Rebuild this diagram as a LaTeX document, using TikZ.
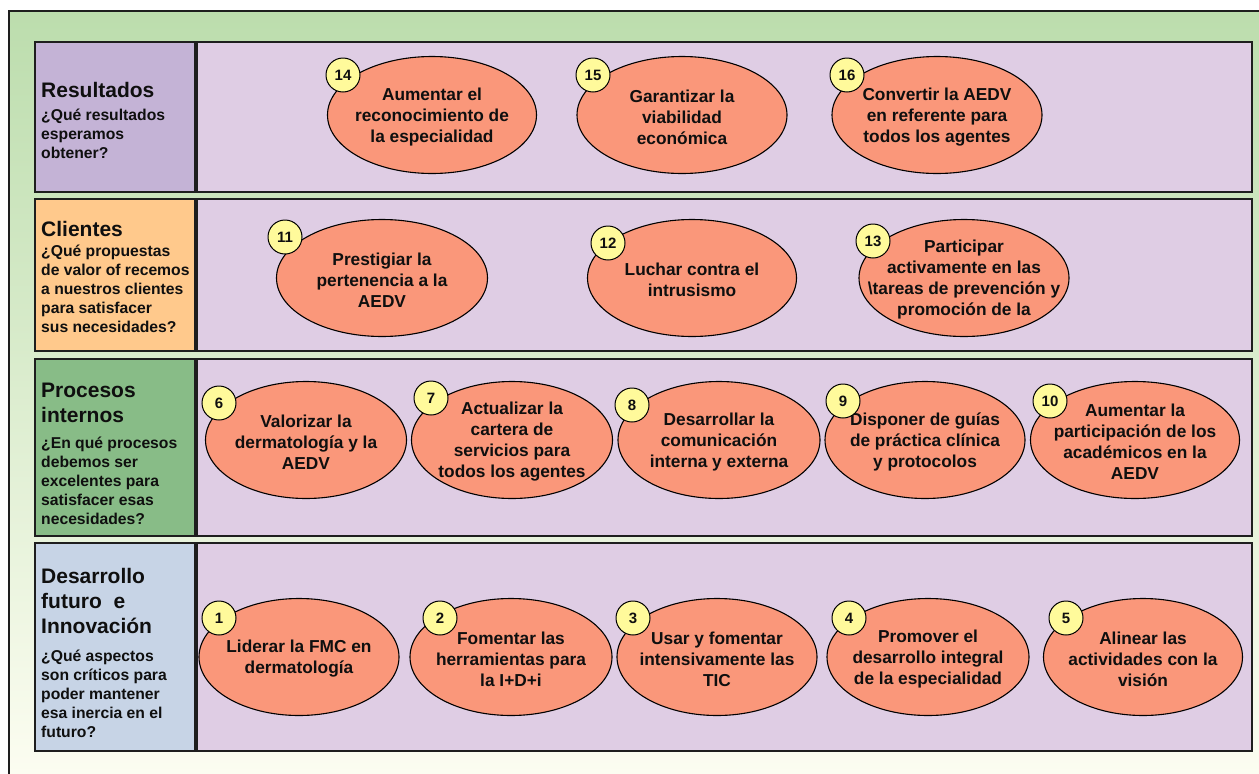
\documentclass[tikz,border=0pt]{standalone}
\usepackage{fontspec}
\setmainfont{Liberation Sans}
\usetikzlibrary{shapes.geometric}
\definecolor{bgtop}{RGB}{188,221,173}
\definecolor{bgbot}{RGB}{252,253,241}
\definecolor{framec}{RGB}{30,30,30}
\definecolor{resC}{RGB}{196,179,214}
\definecolor{cliC}{RGB}{255,201,140}
\definecolor{proC}{RGB}{136,188,135}
\definecolor{desC}{RGB}{199,212,230}
\definecolor{contC}{RGB}{223,205,228}
\definecolor{goalC}{RGB}{250,151,122}
\definecolor{badgeC}{RGB}{255,250,155}
\definecolor{txt}{RGB}{15,15,15}
\newcommand{\headf}{\fontsize{21}{25}\selectfont\bfseries}
\newcommand{\subf}{\fontsize{15.7}{19}\selectfont\bfseries}
\tikzset{
  framel/.style={draw=framec, line width=1.2pt},
  lblbox/.style={draw=framec, line width=1.5pt, anchor=north west, inner sep=0, minimum width=160, minimum height=#1},
  contbox/.style={draw=framec, line width=1.5pt, fill=contC, anchor=north west, inner sep=0, minimum width=1055, minimum height=#1},
  lbltext/.style={anchor=base west, inner sep=0, text=txt},
  goal/.style={ellipse, draw=black, line width=1.1pt, fill=goalC, inner sep=0, minimum height=117, minimum width=#1},
  gtext/.style={align=center, inner sep=0, text=txt, yshift=-2pt, font=\fontsize{17.3}{21}\selectfont\bfseries},
  badge/.style={circle, draw=black, line width=1pt, fill=badgeC, inner sep=0, minimum size=34, text=txt, font=\fontsize{15}{15}\selectfont\bfseries}
}
\begin{document}
\begin{tikzpicture}[x=1pt,y=-1pt]
\useasboundingbox (0,0) rectangle (1259,774);
\shade[top color=bgtop, bottom color=bgbot] (9,11) rectangle (1259,774);
\coordinate (fTR) at (1259,11);
\coordinate (fTL) at (9,11);
\coordinate (fBL) at (9,774);
\draw[framel] (fTR) -- (fTL) -- (fBL);

% row boxes
\node[lblbox=150, fill=resC] (L1) at (34,41) {};
\node[contbox=150] (C1) at (196,41) {};
\node[lblbox=152, fill=cliC] (L2) at (34,198) {};
\node[contbox=152] (C2) at (196,198) {};
\node[lblbox=177, fill=proC] (L3) at (34,358) {};
\node[contbox=177] (C3) at (196,358) {};
\node[lblbox=208, fill=desC] (L4) at (34,542) {};
\node[contbox=208] (C4) at (196,542) {};

% label texts
\node[lbltext] (T1) at (41,97) {\parbox[t]{155pt}{\raggedright\headf Resultados\par\vspace{4pt}\subf ¿Qué resultados\\esperamos\\obtener?}};
\node[lbltext] (T2) at (41,236) {\parbox[t]{158pt}{\raggedright\headf Clientes\par\vspace{1pt}\subf ¿Qué propuestas\\de valor of recemos\\a nuestros clientes\\para satisfacer\\sus necesidades?}};
\node[lbltext] (T3) at (41,397) {\parbox[t]{155pt}{\raggedright\headf Procesos\\internos\par\vspace{7pt}\subf ¿En qué procesos\\debemos ser\\excelentes para\\satisfacer esas\\necesidades?}};
\node[lbltext] (T4) at (41,583) {\parbox[t]{155pt}{\raggedright\headf Desarrollo\\futuro\ \ e\\Innovación\par\vspace{9pt}\subf ¿Qué aspectos\\son críticos para\\poder mantener\\esa inercia en el\\futuro?}};

% row 1
\node[goal=209] (e14) at (432,115) {};
\node[gtext] (t14) at (e14) {Aumentar el\\reconocimiento de\\la especialidad};
\node[goal=210] (e15) at (682,115) {};
\node[gtext] (t15) at (e15) {Garantizar la\\viabilidad\\económica};
\node[goal=210] (e16) at (937,115) {};
\node[gtext] (t16) at (e16) {Convertir la AEDV\\en referente para\\todos los agentes};
\node[badge] (b14) at (343,75) {14};
\node[badge] (b15) at (593,75) {15};
\node[badge] (b16) at (847,75) {16};

% row 2
\node[goal=211] (e11) at (382,278) {};
\node[gtext] (t11) at (e11) {Prestigiar la\\pertenencia a la\\AEDV};
\node[goal=209] (e12) at (692,278) {};
\node[gtext] (t12) at (e12) {Luchar contra el\\intrusismo};
\node[goal=210] (e13) at (964,278) {};
\node[gtext] (t13) at (e13) {Participar\\activamente en las\\\textbackslash tareas de prevención y\\promoción de la};
\node[badge] (b11) at (285,237) {11};
\node[badge] (b12) at (608,243) {12};
\node[badge] (b13) at (873,241) {13};

% row 3
\node[goal=201] (e6) at (306,440) {};
\node[gtext] (t6) at (e6) {Valorizar la\\dermatología y la\\AEDV};
\node[goal=201] (e7) at (512,440) {};
\node[gtext] (t7) at (e7) {Actualizar la\\cartera de\\servicios para\\todos los agentes};
\node[goal=202] (e8) at (719,440) {};
\node[gtext] (t8) at (e8) {Desarrollar la\\comunicación\\interna y externa};
\node[goal=200] (e9) at (925,440) {};
\node[gtext] (t9) at (e9) {Disponer de guías\\de práctica clínica\\y protocolos};
\node[goal=209] (e10) at (1135,440) {};
\node[gtext] (t10) at (e10) {Aumentar la\\participación de los\\académicos en la\\AEDV};
\node[badge] (b6) at (219,403) {6};
\node[badge] (b7) at (431,398) {7};
\node[badge] (b8) at (632,405) {8};
\node[badge] (b9) at (843,401) {9};
\node[badge] (b10) at (1050,401) {10};

% row 4
\node[goal=200] (e1) at (299,657) {};
\node[gtext] (t1) at (e1) {Liderar la FMC en\\dermatología};
\node[goal=202] (e2) at (511,657) {};
\node[gtext] (t2) at (e2) {Fomentar las\\herramientas para\\la I+D+i};
\node[goal=200] (e3) at (717,657) {};
\node[gtext] (t3) at (e3) {Usar y fomentar\\intensivamente las\\TIC};
\node[goal=202] (e4) at (928,657) {};
\node[gtext] (t4) at (e4) {Promover el\\desarrollo integral\\de la especialidad};
\node[goal=199] (e5) at (1143,657) {};
\node[gtext] (t5) at (e5) {Alinear las\\actividades con la\\visión};
\node[badge] (b1) at (219,618) {1};
\node[badge] (b2) at (440,618) {2};
\node[badge] (b3) at (633,618) {3};
\node[badge] (b4) at (849,618) {4};
\node[badge] (b5) at (1066,618) {5};
\end{tikzpicture}
\end{document}
